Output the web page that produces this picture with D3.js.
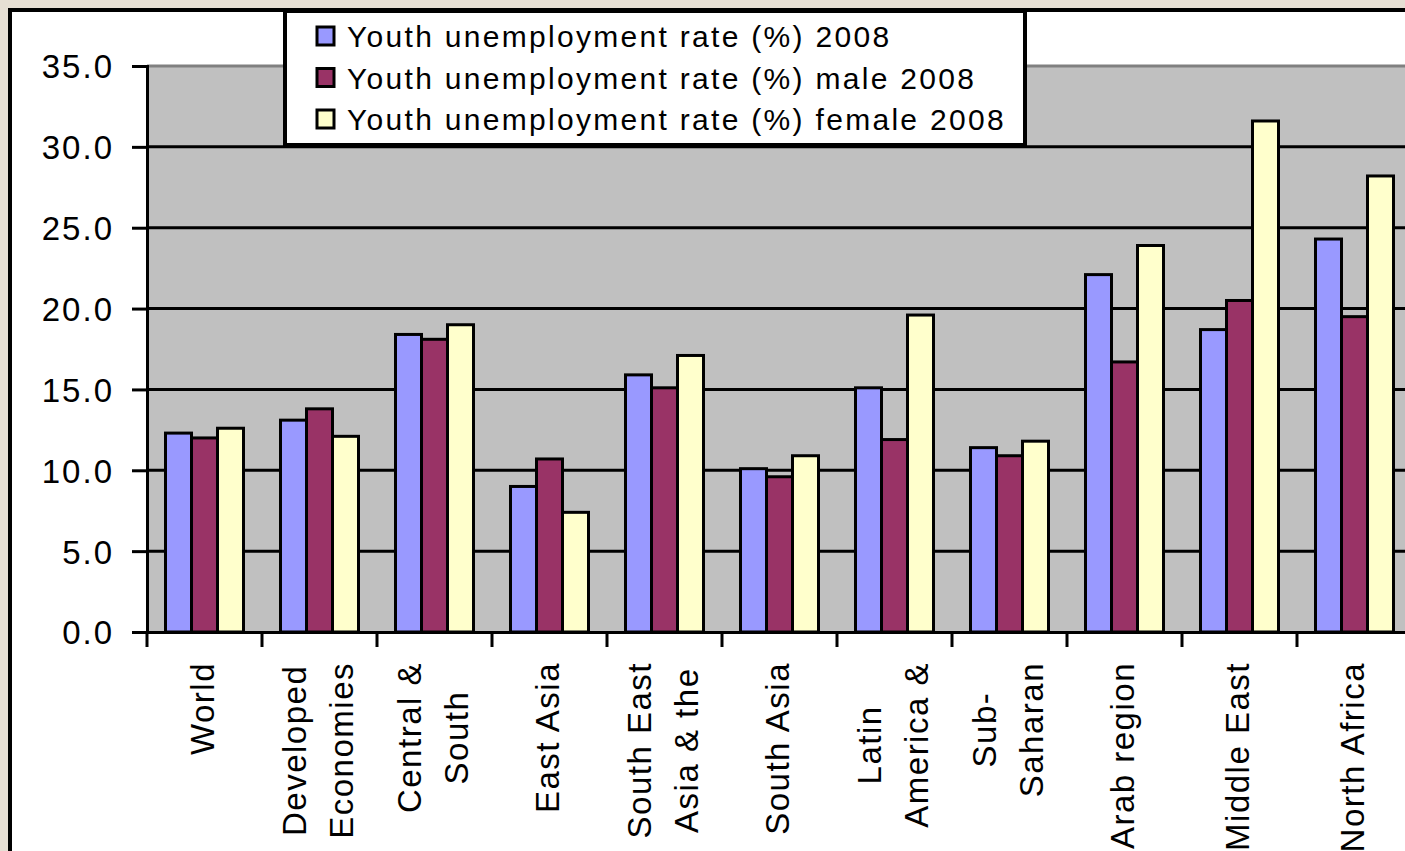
<!DOCTYPE html>
<html>
<head>
<meta charset="utf-8">
<script src="https://cdn.jsdelivr.net/npm/d3@7"></script>
<style>
  html, body { margin: 0; padding: 0; background: #e6dfd4; }
  svg { display: block; }
  text { font-family: "Liberation Sans", Arial, sans-serif; fill: #000; }
</style>
</head>
<body>
<svg id="chart" width="1405" height="851"></svg>
<script>
const categories = ["World", "Developed Economies", "Central & South", "East Asia", "South East Asia & the",
  "South Asia", "Latin America &", "Sub-Saharan", "Arab region", "Middle East", "North Africa"];
const categoryLines = [["World"], ["Developed", "Economies"], ["Central &", "South"], ["East Asia"],
  ["South East", "Asia & the"], ["South Asia"], ["Latin", "America &"], ["Sub-", "Saharan"],
  ["Arab region"], ["Middle East"], ["North Africa"]];
const seriesNames = ["Youth unemployment rate (%) 2008", "Youth unemployment rate (%) male 2008",
  "Youth unemployment rate (%) female 2008"];
const totalValues  = [12.3, 13.1, 18.4, 9.0, 15.9, 10.1, 15.1, 11.4, 22.1, 18.7, 24.3];
const maleValues   = [12.0, 13.8, 18.1, 10.7, 15.1, 9.6, 11.9, 10.9, 16.7, 20.5, 19.5];
const femaleValues = [12.6, 12.1, 19.0, 7.4, 17.1, 10.9, 19.6, 11.8, 23.9, 31.6, 28.2];
const seriesColors = ["#9999ff", "#993366", "#ffffcc"];
const yTicks = [0, 5, 10, 15, 20, 25, 30, 35];

const seriesValues = [totalValues, maleValues, femaleValues];
const svg = d3.select("#chart");

// chart frame (white area)
svg.append("rect").attr("x", 10).attr("y", 10).attr("width", 1420).attr("height", 900)
  .attr("fill", "#fff").attr("stroke", "#000").attr("stroke-width", 4);

const left = 147, bandW = 115;
const x0 = d3.scaleBand().domain(categories).range([left, left + bandW * categories.length]).padding(0);
const x1 = d3.scaleBand().domain(d3.range(3)).range([18.5, 96.5]).padding(0);
const y = d3.scaleLinear().domain([0, 35]).range([632, 66]);

// plot area
svg.append("rect").attr("x", left).attr("y", y(35)).attr("width", x0.range()[1] - left)
  .attr("height", y(0) - y(35)).attr("fill", "#c0c0c0");

// gridlines
svg.append("g").selectAll("line").data(yTicks.filter(t => t > 0)).join("line")
  .attr("x1", left).attr("x2", x0.range()[1])
  .attr("y1", d => y(d)).attr("y2", d => y(d))
  .attr("stroke", d => d === 35 ? "#808080" : "#000").attr("stroke-width", 3);

// bars
const groups = svg.append("g").selectAll("g").data(categories).join("g")
  .attr("transform", d => `translate(${x0(d)},0)`);
groups.selectAll("rect").data((d, i) => seriesValues.map((s, k) => ({k, v: s[i]}))).join("rect")
  .attr("x", d => x1(d.k)).attr("width", x1.bandwidth())
  .attr("y", d => y(d.v)).attr("height", d => y(0) - y(d.v))
  .attr("fill", d => seriesColors[d.k]).attr("stroke", "#000").attr("stroke-width", 3);

// y axis
const yAxis = d3.axisLeft(y).tickValues(yTicks).tickSize(15).tickPadding(18).tickFormat(d3.format(".1f"));
const gy = svg.append("g").attr("transform", `translate(${left},0)`).call(yAxis);
gy.attr("font-family", null);
gy.select(".domain").attr("stroke", "#000").attr("stroke-width", 3);
gy.selectAll(".tick line").attr("stroke", "#000").attr("stroke-width", 3);
gy.selectAll(".tick text").style("font-size", "33px").style("letter-spacing", "2px")
  .attr("dy", "0.36em");

// x axis
const xAxis = d3.axisBottom(x0).tickSize(0).tickFormat("");
const gx = svg.append("g").attr("transform", `translate(0,${y(0)})`).call(xAxis);
gx.select(".domain").attr("stroke", "#000").attr("stroke-width", 3);
svg.append("g").selectAll("line").data(categories).join("line")
  .attr("x1", d => x0(d)).attr("x2", d => x0(d))
  .attr("y1", y(0)).attr("y2", y(0) + 15)
  .attr("stroke", "#000").attr("stroke-width", 3);

// x labels (rotated, multi-line, centered block)
categories.forEach((c, i) => {
  const lines = categoryLines[i];
  const cx = x0(c) + x0.bandwidth() / 2 - 2.5;
  const g = svg.append("g").attr("transform", `translate(0,662)`);
  const texts = lines.map((ln, j) => {
    const bx = cx + (j - (lines.length - 1) / 2) * 47 + 12;
    return g.append("text").attr("transform", `translate(${bx},0) rotate(-90)`)
      .attr("text-anchor", "end").style("font-size", "33px").style("letter-spacing", "1.5px").text(ln);
  });
  const lens = texts.map(t => t.node().getComputedTextLength());
  const L = d3.max(lens);
  texts.forEach((t, j) => t.attr("x", -(L - lens[j]) / 2));
});

// legend
const lg = svg.append("g");
lg.append("rect").attr("x", 285).attr("y", 11).attr("width", 740).attr("height", 134)
  .attr("fill", "#fff").attr("stroke", "#000").attr("stroke-width", 4);
seriesNames.forEach((name, k) => {
  const by = 47 + k * 41.5;
  lg.append("rect").attr("x", 317).attr("y", by - 20).attr("width", 17).attr("height", 18)
    .attr("fill", seriesColors[k]).attr("stroke", "#000").attr("stroke-width", 3);
  lg.append("text").attr("x", 347).attr("y", by).style("font-size", "30px")
    .style("letter-spacing", "2.3px").text(name);
});
</script>
</body>
</html>
